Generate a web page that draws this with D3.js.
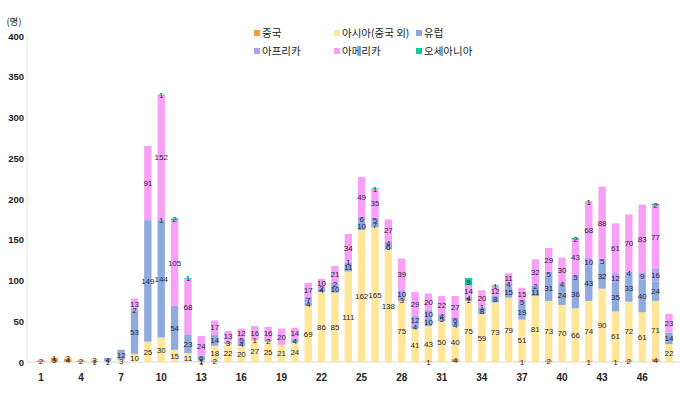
<!DOCTYPE html>
<html>
<head>
  <style>
    body { margin: 0; background: white; }
    svg { display: block; }
  </style>
</head>
<body>
  <svg width="680" height="398"></svg>

  <script src="https://d3js.org/d3.v7.min.js"></script>
  <script>
    const weeks = [1,2,3,4,5,6,7,8,9,10,11,12,13,14,15,16,17,18,19,20,21,22,23,24,
                   25,26,27,28,29,30,31,32,33,34,35,36,37,38,39,40,41,42,43,44,45,46,47,48];
    const china   = [2,5,4,2,1,0,0,0,0,0,0,0,1,2,0,0,0,0,0,0,0,0,0,0,
                     0,0,0,0,0,1,0,4,0,0,0,0,1,0,2,0,0,1,0,1,2,0,4,0];
    const asia    = [0,1,3,0,3,1,3,10,25,30,15,11,1,18,22,20,27,25,21,24,69,86,85,111,
                     162,165,138,75,41,43,50,40,75,59,73,79,51,81,73,70,66,74,90,61,72,61,71,22];
    const europe  = [0,0,0,0,0,4,12,53,149,144,54,23,6,14,3,4,1,2,0,4,4,4,10,11,
                     10,7,6,3,4,10,5,4,1,8,8,15,19,11,31,24,36,43,32,35,33,40,24,14];
    const africa  = [0,0,0,0,0,0,0,2,0,1,0,0,0,0,0,5,0,0,0,0,7,2,2,1,
                     6,5,4,10,12,10,4,6,4,1,0,4,5,2,5,4,5,10,5,12,4,9,16,0];
    const america = [0,0,0,0,0,0,0,13,91,152,105,68,24,17,13,12,16,16,20,14,17,10,21,34,
                     49,35,27,39,29,20,22,27,14,20,12,11,15,32,29,30,43,68,88,61,70,83,77,23];
    const oceania = [0,0,0,0,0,0,0,0,0,1,2,1,0,0,0,0,0,0,0,0,0,0,0,0,
                     0,1,0,0,0,0,0,0,9,0,1,0,0,0,0,0,2,1,0,0,0,0,2,0];

    const seriesNames = ["중국", "아시아(중국 외)", "유럽", "아프리카", "아메리카", "오세아니아"];
    const seriesData = [china, asia, europe, africa, america, oceania];
    const colors = ["#F79A3C", "#FFE699", "#8FAADC", "#ADA2F2", "#F7A0F5", "#14C898"];
    const yTicks = [0, 50, 100, 150, 200, 250, 300, 350, 400];
    const xTickLabels = [1, 4, 7, 10, 13, 16, 19, 22, 25, 28, 31, 34, 37, 40, 43, 46];

    const keys = d3.range(seriesNames.length);
    const table = weeks.map((w, i) => {
      const row = { week: w };
      keys.forEach(k => row[k] = seriesData[k][i]);
      return row;
    });

    const svg = d3.select("svg");
    const x = d3.scaleBand().domain(weeks).range([34.3, 675.6]).paddingInner(0.45).paddingOuter(0.225);
    const y = d3.scaleLinear().domain([0, 400]).range([362, 36]);

    const stacked = d3.stack().keys(keys)(table);

    // axes lines
    svg.append("line").attr("x1", 27).attr("x2", 680).attr("y1", y(0)).attr("y2", y(0))
      .attr("stroke", "#d9d9d9").attr("stroke-width", 1);
    svg.append("line").attr("x1", 27).attr("x2", 27).attr("y1", 36).attr("y2", y(0))
      .attr("stroke", "#e4e4e4").attr("stroke-width", 1);

    // y labels
    svg.append("g").selectAll("text").data(yTicks).join("text")
      .attr("x", 24).attr("y", d => y(d) + 3.5)
      .attr("text-anchor", "end")
      .attr("font-family", "Liberation Sans, Arial, sans-serif")
      .attr("font-size", 9.5).attr("font-weight", "bold").attr("fill", "#222")
      .text(d => d);

    svg.append("text").attr("x", 14).attr("y", 25).attr("text-anchor", "middle")
      .attr("font-family", "Noto Sans CJK KR, sans-serif").attr("font-size", 9.5)
      .attr("fill", "#222").text("(명)");

    // x labels
    svg.append("g").selectAll("text").data(xTickLabels).join("text")
      .attr("x", d => x(d) + x.bandwidth() / 2).attr("y", 381)
      .attr("text-anchor", "middle")
      .attr("font-family", "Liberation Sans, Arial, sans-serif")
      .attr("font-size", 10).attr("font-weight", "bold").attr("fill", "#222")
      .text(d => d);

    // bars
    const layers = svg.append("g").selectAll("g").data(stacked).join("g")
      .attr("fill", (d, i) => colors[i]);
    layers.selectAll("rect").data(d => d.filter(p => p[1] > p[0])).join("rect")
      .attr("x", d => x(d.data.week))
      .attr("y", d => y(d[1]))
      .attr("width", x.bandwidth())
      .attr("height", d => y(d[0]) - y(d[1]));

    // value labels
    const labels = svg.append("g");
    stacked.forEach(layer => {
      labels.selectAll(null).data(layer.filter(p => p[1] > p[0])).join("text")
        .attr("x", d => x(d.data.week) + x.bandwidth() / 2)
        .attr("y", d => y((d[0] + d[1]) / 2) + 3)
        .attr("text-anchor", "middle")
        .attr("font-family", "Liberation Sans, Arial, sans-serif")
        .attr("font-size", 8).attr("fill", "#262444")
        .text(d => d[1] - d[0]);
    });

    // legend
    const legendPos = [[254, 33], [334, 33], [416, 33], [254, 51], [334, 51], [416, 51]];
    const legend = svg.append("g").selectAll("g").data(seriesNames).join("g")
      .attr("transform", (d, i) => `translate(${legendPos[i][0]},${legendPos[i][1]})`);
    legend.append("rect").attr("x", 0).attr("y", -3).attr("width", 6).attr("height", 6)
      .attr("fill", (d, i) => colors[i]);
    legend.append("text").attr("x", 8).attr("y", 4)
      .attr("font-family", "Noto Sans CJK KR, sans-serif").attr("font-size", 10.5)
      .attr("fill", "#222").text(d => d);
  </script>
</body>
</html>
